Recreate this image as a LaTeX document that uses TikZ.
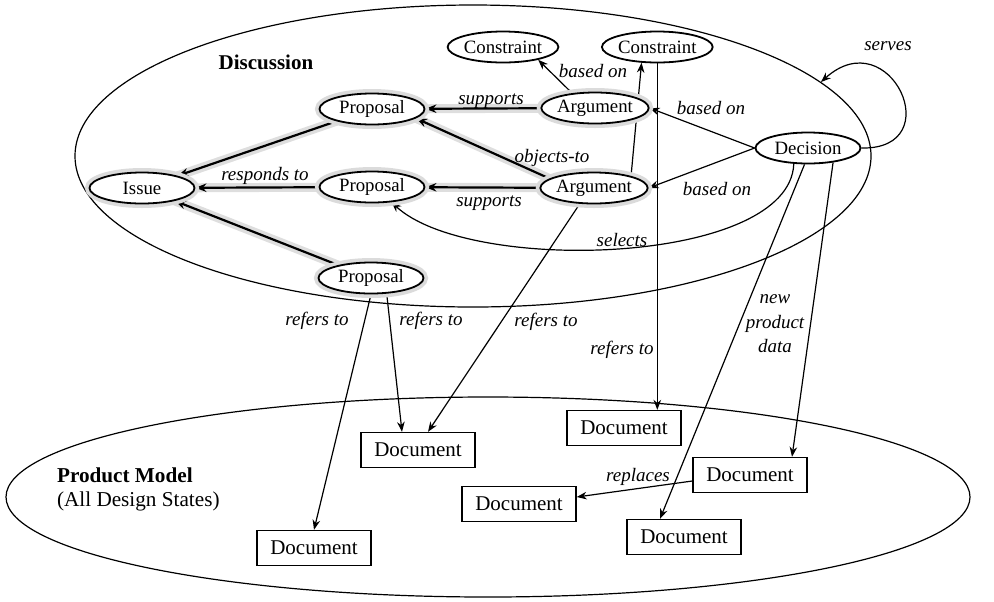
\documentclass[tikz,border=0pt]{standalone}
\usepackage{fontspec}
\setmainfont{Liberation Serif}
\usetikzlibrary{shapes.geometric,arrows.meta,calc}
\pgfdeclarelayer{bg}
\pgfsetlayers{bg,main}
\begin{document}
\begin{tikzpicture}[x=0.5pt,y=-0.5pt,
  elnode/.style={ellipse, draw, line width=0.9pt, fill=white, minimum width=52.5pt, minimum height=15.5pt, inner sep=0pt, font=\fontsize{9.4}{11}\selectfont},
  glow/.style={preaction={draw=black!14, line width=4.5pt}},
  docbox/.style={rectangle, draw, line width=0.7pt, fill=white, minimum width=57pt, minimum height=17.5pt, inner sep=0pt, font=\fontsize{10.5}{12}\selectfont},
  conn/.style={line width=0.6pt, -{Stealth[length=5pt,width=3.8pt]}},
  heavy/.style={line width=1.1pt, -{Stealth[length=5.5pt,width=4.2pt]}, preaction={draw=black!13, line width=4.5pt, -}},
  lbl/.style={font=\itshape\fontsize{9.5}{11}\selectfont, inner sep=1pt},
  area/.style={ellipse, draw, line width=0.6pt, inner sep=0pt}]
\useasboundingbox (0,0) rectangle (994,601);

% regions
\node[area, minimum width=398pt, minimum height=151pt] (disc) at (473,156) {};
\node[area, minimum width=482pt, minimum height=100pt] (pm) at (488,497) {};
\node[font=\bfseries\fontsize{10.5}{12}\selectfont] (disclbl) at (266,62) {Discussion};
\node[align=left, anchor=west, font=\fontsize{10.6}{12}\selectfont] (pmlbl) at (50,489) {\textbf{Product Model}\\(All Design States)};

% discussion nodes
\node[elnode, glow] (issue) at (142,188) {Issue};
\node[elnode, glow] (prop1) at (372,109) {Proposal};
\node[elnode, glow] (prop2) at (372,187) {Proposal};
\node[elnode, glow] (prop3) at (371,278) {Proposal};
\node[elnode, glow] (arg1) at (595,108) {Argument};
\node[elnode, glow] (arg2) at (594,188) {Argument};
\node[elnode] (con1) at (503,47) {Constraint};
\node[elnode] (con2) at (657.3,47) {Constraint};
\node[elnode] (dec) at (808,148) {Decision};

% documents
\node[docbox] (docA) at (418,450) {Document};
\node[docbox] (docB) at (314,548) {Document};
\node[docbox] (docC) at (624,428) {Document};
\node[docbox] (docD) at (750,475) {Document};
\node[docbox] (docE) at (519,504) {Document};
\node[docbox] (docF) at (684,537) {Document};

% labels
\node[lbl] (lresp) at (265,176) {responds to};
\node[lbl] (lsup1) at (491,101) {supports};
\node[lbl] (lsup2) at (489,203) {supports};
\node[lbl] (lobj) at (552,158) {objects-to};
\node[lbl] (lbas1) at (593,71) {based on};
\node[lbl] (lbas2) at (711,108) {based on};
\node[lbl] (lbas3) at (717,189) {based on};
\node[lbl] (lsel) at (622,240) {selects};
\node[lbl] (lserv) at (888,46) {serves};
\node[lbl] (lref1) at (317,321) {refers to};
\node[lbl] (lref2) at (431,321) {refers to};
\node[lbl] (lref3) at (546,322) {refers to};
\node[lbl] (lref4) at (622,350) {refers to};
\node[lbl, align=center, font=\itshape\fontsize{9.5}{12.3}\selectfont] (lnew) at (775,324) {new\\product\\data};
\node[lbl] (lrepl) at (638,477) {replaces};

\begin{pgfonlayer}{bg}
\draw[heavy] (prop1) -- (issue);
\draw[heavy] (prop2) -- (issue);
\draw[heavy] (prop3) -- (issue);
\draw[heavy] (arg1) -- (prop1);
\draw[heavy] (arg2) -- (prop2);
\draw[heavy] (arg2.168) -- (prop1.-12);
\draw[conn] (arg1.147) -- (con1.-20);
\draw[conn] (arg2.18) -- (con2.225);
\draw[conn] (con2.south) -- (con2.south |- docC.north);
\draw[conn] (dec.west) -- (arg1.east);
\draw[conn] (dec.west) -- (arg2.east);
\draw[conn] (dec.228) .. controls (790,265) and (470,275) .. (prop2.-38);
\draw[conn] (dec.east) .. controls (950,150) and (890,20) .. (disc.12);
\draw[conn] (dec.258) -- ($(docF.north)+(-24,0)$);
\draw[conn] (dec.-30) -- ($(docD.north)+(42,0)$);
\draw[conn] ($(docD.west)+(0,6)$) -- ($(docE.east)+(0,-7)$);
\draw[conn] (arg2.-132) -- ($(docA.north)+(10,0)$);
\draw[conn] (prop3.-45) -- ($(docA.north)+(-16,0)$);
\draw[conn] (prop3.south) -- (docB.north);
\end{pgfonlayer}
\end{tikzpicture}
\end{document}
